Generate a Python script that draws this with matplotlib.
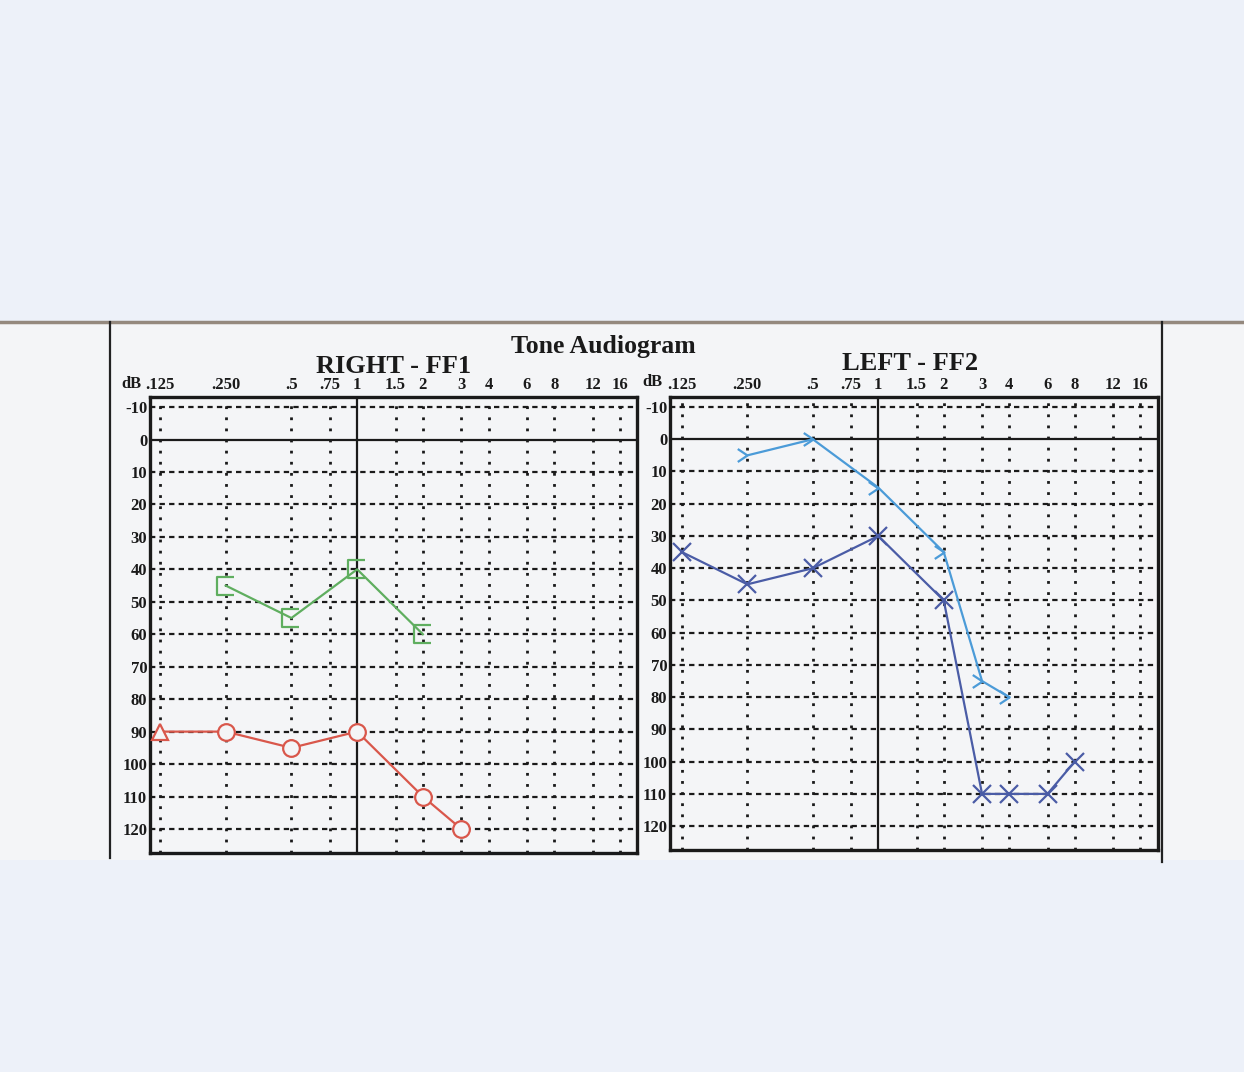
import matplotlib.pyplot as plt
import numpy as np
from matplotlib.path import Path
from matplotlib.patches import Rectangle
from matplotlib.lines import Line2D
from matplotlib.ticker import NullLocator

# frequency axis (kHz) and dB axis
freq_ticks = [0.125, 0.25, 0.5, 0.75, 1, 1.5, 2, 3, 4, 6, 8, 12, 16]
freq_labels = [".125", ".250", ".5", ".75", "1", "1.5", "2", "3", "4", "6", "8", "12", "16"]
db_ticks = [-10, 0, 10, 20, 30, 40, 50, 60, 70, 80, 90, 100, 110, 120]
db_labels = ["-10", "0", "10", "20", "30", "40", "50", "60", "70", "80", "90", "100", "110", "120"]

# RIGHT - FF1
right_ac_freq = [0.125, 0.25, 0.5, 1, 2, 3]
right_ac_db = [90, 90, 95, 90, 110, 120]
right_ac_sym = ["^", "o", "o", "o", "o", "o"]
right_bc_freq = [0.25, 0.5, 1, 2]
right_bc_db = [45, 55, 40, 60]

# LEFT - FF2
left_ac_freq = [0.125, 0.25, 0.5, 1, 2, 3, 4, 6, 8]
left_ac_db = [35, 45, 40, 30, 50, 110, 110, 110, 100]
left_bc_freq = [0.25, 0.5, 1, 2, 3, 4]
left_bc_db = [5, 0, 15, 35, 75, 80]

red = "#d9574b"
green = "#5fae5f"
dark_blue = "#4a5ca6"
light_blue = "#4b9bd8"

serif = "Liberation Serif"
W, H = 1244, 1072

# open marker shapes
bracket = Path([(0.9, 1), (-1, 1), (-1, -1), (0.9, -1)],
               [Path.MOVETO, Path.LINETO, Path.LINETO, Path.LINETO])
chevron = Path([(-1.2, 0.8), (0, 0), (-1.2, -0.8)],
               [Path.MOVETO, Path.LINETO, Path.LINETO])


def fx(px):
    return px / W


def fy(py):
    return 1 - py / H


fig = plt.figure(figsize=(12.44, 10.72), dpi=100, facecolor="#edf1f9")

# paper sheet
fig.patches.append(Rectangle((0, fy(860)), 1, (860 - 322) / H, transform=fig.transFigure,
                             facecolor="#f4f5f7", edgecolor="none", zorder=-10))
fig.lines.append(Line2D([0, 1], [fy(322), fy(322)], transform=fig.transFigure,
                        color="#7d6e60", lw=2.5, alpha=0.8, zorder=-5))
fig.lines.append(Line2D([fx(110), fx(110)], [fy(322), fy(858)], transform=fig.transFigure,
                        color="#222222", lw=1.6, zorder=-5))
fig.lines.append(Line2D([fx(1162), fx(1162)], [fy(322), fy(862)], transform=fig.transFigure,
                        color="#222222", lw=1.6, zorder=-5))


def setup(ax, xlo_px, xhi_px):
    ax.set_facecolor("none")
    ax.set_xscale("log", base=2)
    ax.set_xlim(0.125 * 2 ** (-xlo_px / 66), 16 * 2 ** (xhi_px / 66))
    ax.set_ylim(127.4, -13.1)
    ax.set_xticks(freq_ticks)
    ax.set_xticklabels(freq_labels)
    ax.xaxis.set_minor_locator(NullLocator())
    ax.set_yticks(db_ticks)
    ax.set_yticklabels(db_labels)
    ax.tick_params(axis="x", top=True, bottom=False, labeltop=True, labelbottom=False,
                   length=0, pad=3)
    ax.tick_params(axis="y", length=0, pad=2)
    for lab in ax.get_xticklabels() + ax.get_yticklabels():
        lab.set_fontfamily(serif)
        lab.set_fontweight("bold")
        lab.set_fontsize(12)
        lab.set_color("#1a1a1a")
    for s in ax.spines.values():
        s.set_linewidth(2.4)
        s.set_color("#1a1a1a")
    for f in freq_ticks:
        if f == 1:
            ax.axvline(f, color="#1a1a1a", lw=1.6, zorder=1)
        else:
            ax.axvline(f, color="#1a1a1a", lw=2.0, ls=(0, (1, 3)), zorder=1)
    for d in db_ticks:
        if d == 0:
            ax.axhline(d, color="#1a1a1a", lw=1.6, zorder=1)
        else:
            ax.axhline(d, color="#1a1a1a", lw=1.6, ls=(0, (2.4, 1.9)), zorder=1)


ax_r = fig.add_axes([fx(150), fy(853), (637 - 150) / W, (853 - 397) / H])
setup(ax_r, 10, 17)
ax_l = fig.add_axes([fx(670), fy(850), (1158 - 670) / W, (850 - 397) / H])
setup(ax_l, 12, 18)

# right ear
ax_r.plot(right_ac_freq, right_ac_db, color=red, lw=1.6, zorder=3)
for f, d, m in zip(right_ac_freq, right_ac_db, right_ac_sym):
    ax_r.plot(f, d, marker=m, ms=12, mfc="#f4f5f7", mec=red, mew=1.6, zorder=4)
ax_r.plot(right_bc_freq, right_bc_db, color=green, lw=1.6, marker=bracket, ms=13,
          mfc="none", mec=green, mew=1.6, zorder=3)

# left ear
ax_l.plot(left_bc_freq, left_bc_db, color=light_blue, lw=1.6, marker=chevron, ms=14,
          mfc="none", mec=light_blue, mew=1.6, zorder=3)
ax_l.plot(left_ac_freq, left_ac_db, color=dark_blue, lw=1.6, marker="x", ms=13,
          mec=dark_blue, mew=1.6, zorder=3)

# headings
fig.text(fx(603), fy(347), "Tone Audiogram", ha="center", va="center", family=serif,
         weight="bold", fontsize=18.5, color="#1a1a1a")
fig.text(fx(394), fy(366), "RIGHT - FF1", ha="center", va="center", family=serif,
         weight="bold", fontsize=19, color="#1a1a1a")
fig.text(fx(910), fy(363), "LEFT - FF2", ha="center", va="center", family=serif,
         weight="bold", fontsize=19, color="#1a1a1a")
fig.text(fx(131), fy(384), "dB", ha="center", va="center", family=serif,
         weight="bold", fontsize=12, color="#1a1a1a")
fig.text(fx(652), fy(382), "dB", ha="center", va="center", family=serif,
         weight="bold", fontsize=12, color="#1a1a1a")

fig.savefig("out.png", dpi=100, facecolor=fig.get_facecolor())
